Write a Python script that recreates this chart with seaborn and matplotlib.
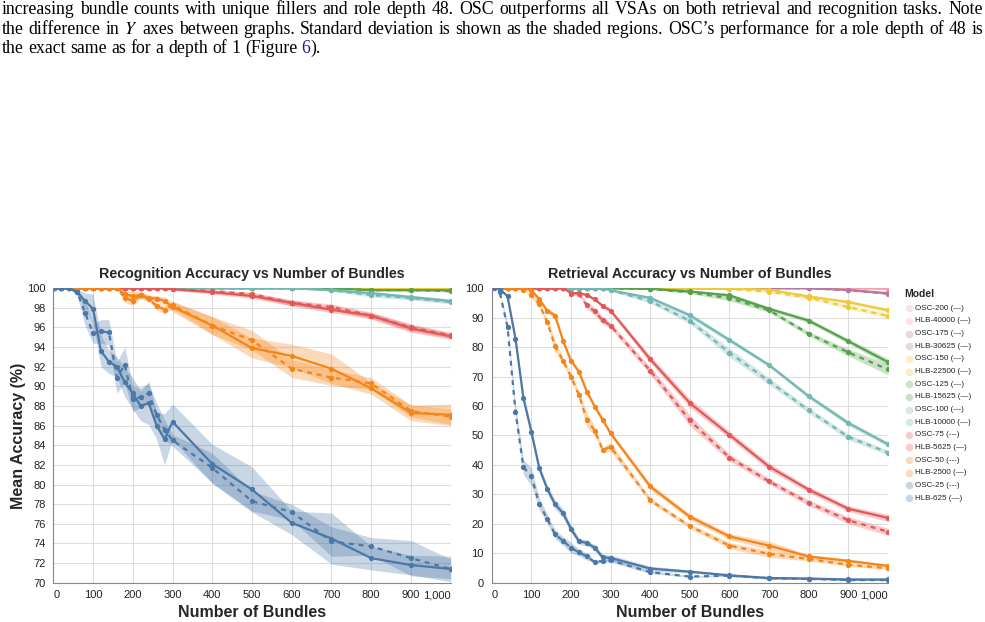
import matplotlib
matplotlib.use("Agg")
import matplotlib.pyplot as plt
import seaborn as sns
import pandas as pd

# bundle counts on the x axis
bundles = [1, 20, 40, 60, 80, 100, 120, 140, 160, 180, 200, 220, 240, 260, 280, 300,
           400, 500, 600, 700, 800, 900, 1000]

# Recognition accuracy (mean, std)
rec_osc200 = [100] * 23
rec_osc200_sd = [0] * 23
rec_hlb40000 = [100] * 23
rec_hlb40000_sd = [0] * 23
rec_osc175 = [100] * 23
rec_osc175_sd = [0] * 23
rec_hlb30625 = [100] * 23
rec_hlb30625_sd = [0] * 23
rec_osc150 = [100] * 23
rec_osc150_sd = [0] * 23
rec_hlb22500 = [100] * 23
rec_hlb22500_sd = [0] * 23
rec_osc125 = [100] * 20 + [99.8, 99.8, 99.7]
rec_osc125_sd = [0] * 20 + [0.05, 0.05, 0.1]
rec_hlb15625 = [100] * 20 + [99.8, 99.8, 99.8]
rec_hlb15625_sd = [0] * 20 + [0.05, 0.05, 0.05]
rec_osc100 = [100] * 19 + [99.8, 99.3, 99.0, 98.6]
rec_osc100_sd = [0] * 19 + [0.1, 0.2, 0.2, 0.2]
rec_hlb10000 = [100] * 19 + [99.8, 99.5, 99.1, 98.7]
rec_hlb10000_sd = [0] * 19 + [0.1, 0.15, 0.2, 0.2]
rec_osc75 = [100] * 15 + [99.9, 99.7, 99.4, 98.5, 98.1, 97.2, 96.0, 95.2]
rec_osc75_sd = [0] * 15 + [0.1, 0.15, 0.2, 0.3, 0.3, 0.35, 0.35, 0.3]
rec_hlb5625 = [100] * 15 + [99.9, 99.6, 99.2, 98.5, 97.8, 97.2, 95.9, 95.1]
rec_hlb5625_sd = [0] * 15 + [0.1, 0.2, 0.25, 0.3, 0.3, 0.3, 0.4, 0.3]
rec_osc50 = [100] * 9 + [99.0, 98.7, 99.3, 98.9, 98.2, 97.8, 98.3,
                         96.2, 94.7, 91.8, 90.9, 90.3, 87.5, 86.9]
rec_osc50_sd = [0] * 9 + [0.4, 0.5, 0.3, 0.3, 0.4, 0.4, 0.4,
                          0.9, 1.0, 0.9, 0.8, 0.6, 0.6, 0.8]
rec_hlb2500 = [100] * 9 + [99.4, 99.2, 99.3, 99.0, 98.95, 98.7, 98.1,
                           96.2, 93.9, 93.1, 91.8, 89.8, 87.3, 87.1]
rec_hlb2500_sd = [0] * 9 + [0.3, 0.5, 0.4, 0.3, 0.3, 0.4, 0.5,
                            0.9, 1.0, 1.2, 1.5, 0.6, 0.8, 1.1]
rec_osc25 = [100, 100, 100, 99.6, 97.5, 95.4, 95.6, 95.5, 90.9, 92.2, 88.7, 88.9,
             89.3, 87.1, 85.6, 84.5, 81.7, 78.3, 77.2, 74.2, 73.7, 72.5, 71.4]
rec_osc25_sd = [0, 0, 0, 0.3, 1.3, 1.0, 1.2, 1.3, 1.6, 1.8, 1.3, 1.0,
                1.0, 1.2, 1.0, 0.6, 1.5, 1.0, 0.8, 1.5, 0.9, 1.8, 1.0]
rec_hlb625 = [100, 100, 100, 99.6, 98.7, 97.9, 93.6, 92.5, 92.0, 90.4, 89.3, 88.0,
              88.3, 86.0, 84.6, 86.4, 82.1, 79.5, 76.1, 74.5, 72.5, 71.8, 71.4]
rec_hlb625_sd = [0, 0, 0, 0.3, 0.8, 1.5, 1.6, 1.2, 1.0, 1.5, 1.6, 1.5,
                 2.2, 1.4, 2.6, 1.8, 2.0, 2.3, 1.2, 2.6, 1.2, 1.0, 1.3]

# Retrieval accuracy (mean, std)
ret_osc200 = [100] * 22 + [99.8]
ret_osc200_sd = [0] * 22 + [0.1]
ret_hlb40000 = [100] * 22 + [99.8]
ret_hlb40000_sd = [0] * 22 + [0.1]
ret_osc175 = [100] * 21 + [99.3, 98.1]
ret_osc175_sd = [0] * 21 + [0.2, 0.3]
ret_hlb30625 = [100] * 21 + [99.4, 98.3]
ret_hlb30625_sd = [0] * 21 + [0.2, 0.3]
ret_osc150 = [100] * 18 + [99.7, 98.8, 96.8, 93.6, 90.6]
ret_osc150_sd = [0] * 18 + [0.1, 0.3, 0.5, 0.7, 0.8]
ret_hlb22500 = [100] * 18 + [99.9, 99.5, 97.2, 95.3, 92.5]
ret_hlb22500_sd = [0] * 18 + [0.1, 0.2, 0.4, 0.6, 0.7]
ret_osc125 = [100] * 16 + [99.7, 98.6, 96.6, 92.5, 84.5, 78.2, 72.4]
ret_osc125_sd = [0] * 16 + [0.1, 0.4, 0.9, 0.7, 0.8, 1.2, 1.8]
ret_hlb15625 = [100] * 16 + [99.8, 98.9, 97.6, 93.0, 89.0, 82.0, 74.9]
ret_hlb15625_sd = [0] * 16 + [0.1, 0.3, 0.5, 0.7, 0.7, 0.8, 1.2]
ret_osc100 = [100] * 15 + [99.3, 95.6, 88.9, 78.1, 68.4, 58.5, 49.5, 44.2]
ret_osc100_sd = [0] * 15 + [0.2, 0.7, 1.0, 1.5, 1.2, 1.0, 1.0, 0.8]
ret_hlb10000 = [100] * 15 + [99.3, 96.7, 90.8, 82.4, 73.9, 63.3, 54.2, 47.0]
ret_hlb10000_sd = [0] * 15 + [0.2, 0.6, 0.8, 0.8, 0.7, 0.8, 0.9, 0.8]
ret_osc75 = [100] * 10 + [98.2, 98.0, 94.2, 92.1, 89.1, 87.3,
                          72.0, 55.1, 42.5, 34.4, 27.1, 21.2, 17.3]
ret_osc75_sd = [0] * 10 + [0.5, 0.6, 1.2, 1.3, 1.2, 1.0,
                           1.3, 1.8, 1.2, 1.0, 1.0, 1.2, 1.2]
ret_hlb5625 = [100] * 10 + [98.4, 98.3, 97.7, 96.2, 94.0, 92.4,
                            75.9, 61.0, 50.2, 39.4, 31.6, 25.1, 22.0]
ret_hlb5625_sd = [0] * 10 + [0.4, 0.4, 0.5, 0.5, 0.6, 0.7,
                             1.2, 1.5, 1.2, 1.2, 1.0, 1.0, 1.2]
ret_osc50 = [100, 100, 100, 100, 99.5, 97.6, 94.6, 88.5, 80.3, 75.4, 70.0, 63.8,
             55.3, 51.6, 45.1, 46.1, 28.0, 19.2, 12.6, 9.8, 8.0, 6.1, 4.9]
ret_osc50_sd = [0, 0, 0, 0, 0.2, 0.8, 1.0, 1.2, 1.8, 1.2, 1.2, 1.2,
                2.5, 1.5, 1.0, 1.5, 0.8, 0.8, 1.0, 1.2, 0.6, 0.5, 0.5]
ret_hlb2500 = [100, 100, 100, 100, 100, 99.3, 96.3, 92.4, 90.7, 82.2, 75.4, 71.7,
               64.9, 59.8, 55.3, 50.7, 32.7, 22.4, 15.7, 12.6, 8.9, 7.4, 5.7]
ret_hlb2500_sd = [0, 0, 0, 0, 0, 0.4, 0.6, 0.8, 1.0, 0.8, 0.8, 0.8,
                  0.8, 0.8, 0.8, 0.8, 1.0, 1.0, 1.0, 1.5, 0.6, 0.6, 0.6]
ret_osc25 = [100, 98.7, 86.8, 58.1, 39.2, 36.1, 26.8, 21.7, 16.4, 14.2, 11.9, 10.3,
             8.9, 7.0, 7.4, 7.6, 3.6, 2.1, 2.4, 1.5, 1.3, 0.9, 0.9]
ret_osc25_sd = [0, 0.4, 1.5, 2.5, 2.5, 3.0, 2.0, 1.5, 1.5, 1.5, 1.8, 1.2,
                1.2, 0.5, 0.5, 0.6, 0.5, 0.3, 0.3, 0.2, 0.2, 0.2, 0.2]
ret_hlb625 = [100, 99.9, 97.2, 82.9, 62.7, 51.3, 38.9, 31.9, 26.6, 23.6, 18.3, 14.1,
              13.5, 11.9, 8.6, 8.4, 4.8, 3.75, 2.5, 1.6, 1.4, 1.1, 1.1]
ret_hlb625_sd = [0, 0.1, 0.5, 1.2, 1.5, 1.5, 1.2, 1.3, 1.5, 1.5, 1.3, 1.0,
                 1.0, 1.0, 1.0, 1.0, 0.8, 0.5, 0.3, 0.3, 0.3, 0.2, 0.2]

models = ["OSC-200", "HLB-40000", "OSC-175", "HLB-30625", "OSC-150", "HLB-22500",
          "OSC-125", "HLB-15625", "OSC-100", "HLB-10000", "OSC-75", "HLB-5625",
          "OSC-50", "HLB-2500", "OSC-25", "HLB-625"]
pair_colors = ["#ff9da6", "#b279a2", "#eeca3b", "#54a24b",
               "#72b7b2", "#e45756", "#f58518", "#4c78a8"]

rec_means = [rec_osc200, rec_hlb40000, rec_osc175, rec_hlb30625, rec_osc150, rec_hlb22500,
             rec_osc125, rec_hlb15625, rec_osc100, rec_hlb10000, rec_osc75, rec_hlb5625,
             rec_osc50, rec_hlb2500, rec_osc25, rec_hlb625]
rec_sds = [rec_osc200_sd, rec_hlb40000_sd, rec_osc175_sd, rec_hlb30625_sd, rec_osc150_sd,
           rec_hlb22500_sd, rec_osc125_sd, rec_hlb15625_sd, rec_osc100_sd, rec_hlb10000_sd,
           rec_osc75_sd, rec_hlb5625_sd, rec_osc50_sd, rec_hlb2500_sd, rec_osc25_sd,
           rec_hlb625_sd]
ret_means = [ret_osc200, ret_hlb40000, ret_osc175, ret_hlb30625, ret_osc150, ret_hlb22500,
             ret_osc125, ret_hlb15625, ret_osc100, ret_hlb10000, ret_osc75, ret_hlb5625,
             ret_osc50, ret_hlb2500, ret_osc25, ret_hlb625]
ret_sds = [ret_osc200_sd, ret_hlb40000_sd, ret_osc175_sd, ret_hlb30625_sd, ret_osc150_sd,
           ret_hlb22500_sd, ret_osc125_sd, ret_hlb15625_sd, ret_osc100_sd, ret_hlb10000_sd,
           ret_osc75_sd, ret_hlb5625_sd, ret_osc50_sd, ret_hlb2500_sd, ret_osc25_sd,
           ret_hlb625_sd]


def to_frame(means, sds):
    rows = []
    for m, mean, sd in zip(models, means, sds):
        for b, v, s in zip(bundles, mean, sd):
            rows.append({"Bundles": b, "Model": m, "Accuracy": v, "SD": s})
    return pd.DataFrame(rows)


rec_df = to_frame(rec_means, rec_sds)
ret_df = to_frame(ret_means, ret_sds)

sns.set_style("white")
plt.rcParams["font.family"] = ["Liberation Sans", "DejaVu Sans"]
plt.rcParams["mathtext.fontset"] = "stix"

W, H = 985, 622
fig = plt.figure(figsize=(W / 100, H / 100), dpi=100)
ax_rec = fig.add_axes([53.3 / W, 1 - 582.7 / H, 397.4 / W, 294.5 / H])
ax_ret = fig.add_axes([491.7 / W, 1 - 582.7 / H, 396.3 / W, 294.5 / H])


def draw_panel(ax, df, title, ylim, yticks):
    # shaded std bands first, then lines on top
    for i, m in enumerate(models):
        sub = df[df["Model"] == m]
        c = pair_colors[i // 2]
        ax.fill_between(sub["Bundles"], sub["Accuracy"] - sub["SD"],
                        sub["Accuracy"] + sub["SD"], color=c, alpha=0.3, lw=0)
    for i, m in enumerate(models):
        sub = df[df["Model"] == m]
        c = pair_colors[i // 2]
        ls = (0, (2.2, 2.2)) if m.startswith("OSC") else "-"
        sns.lineplot(data=sub, x="Bundles", y="Accuracy", ax=ax, color=c,
                     linestyle=ls, lw=1.6, marker="o", markersize=3.8,
                     markeredgewidth=0, errorbar=None, legend=False)
    ax.set_xlim(0, 1000)
    ax.set_ylim(*ylim)
    ax.set_xticks(range(0, 1001, 100))
    ax.set_xticklabels([f"{v:,}" for v in range(0, 1001, 100)])
    ax.set_yticks(yticks)
    ax.set_yticklabels([str(v) for v in yticks])
    labels = ax.get_xticklabels()
    labels[0].set_ha("left")
    labels[-1].set_ha("right")
    ax.grid(True, color="#dddddd", lw=0.8)
    ax.set_axisbelow(True)
    for s in ["top", "right"]:
        ax.spines[s].set_visible(False)
    for s in ["left", "bottom"]:
        ax.spines[s].set_color("#888888")
        ax.spines[s].set_linewidth(0.8)
    ax.tick_params(axis="both", length=3.6, width=0.8, color="#888888",
                   labelsize=8, labelcolor="#222222", pad=2)
    ax.set_title(title, fontsize=10.3, fontweight="bold", pad=7)
    ax.set_xlabel("Number of Bundles", fontsize=11.5, fontweight="bold", labelpad=3)
    ax.set_ylabel("")


draw_panel(ax_rec, rec_df, "Recognition Accuracy vs Number of Bundles",
           (70, 100), list(range(70, 101, 2)))
draw_panel(ax_ret, ret_df, "Retrieval Accuracy vs Number of Bundles",
           (0, 100), list(range(0, 101, 10)))
ax_rec.set_ylabel("Mean Accuracy (%)", fontsize=11.5, fontweight="bold", labelpad=1)

# legend, drawn on an overlay in pixel units
leg = fig.add_axes([0, 0, 1, 1])
leg.set_xlim(0, W)
leg.set_ylim(H, 0)
leg.axis("off")
leg.text(904, 294, "Model", fontsize=7.5, fontweight="bold", va="center", ha="left")
for i, m in enumerate(models):
    y = 308.3 + i * 12.65
    leg.scatter([908.5], [y], s=30, color=pair_colors[i // 2], alpha=0.3, lw=0)
    tag = "(---)" if m.startswith("OSC") else "(\u2014)"
    leg.text(915, y, f"{m} {tag}", fontsize=5.8, va="center", ha="left", color="#222222")

# caption text above the charts
cap_size = 12.8
line1 = ("increasing bundle counts with unique fillers and role depth 48. OSC outperforms "
         "all VSAs on both retrieval and recognition tasks. Note").split()
line2 = ("the difference in $Y$ axes between graphs. Standard deviation is shown as the "
         "shaded regions. OSC\u2019s performance for a role depth of 48 is").split()
line3 = "the exact same as for a depth of 1 (Figure".split()

renderer = fig.canvas.get_renderer()


def place(tokens, base_y, justify):
    texts = []
    for word, color, glue in tokens:
        t = fig.text(0, 1 - base_y / H, word, fontsize=cap_size, color=color,
                     family=["Liberation Serif", "DejaVu Serif"], va="baseline", ha="left")
        texts.append((t, glue))
    widths = [t.get_window_extent(renderer).width for t, _ in texts]
    n_gaps = sum(1 for _, g in texts[1:] if not g)
    if justify:
        gap = (981 - sum(widths)) / n_gaps
    else:
        gap = 0.25 * cap_size * 100 / 72
    x = 2
    for (t, glue), w in zip(texts, widths):
        if not glue and t is not texts[0][0]:
            x += gap
        t.set_x(x / W)
        x += w


place([(w, "black", False) for w in line1], 14, True)
place([(w, "black", False) for w in line2], 33.5, True)
place([(w, "black", False) for w in line3] + [("6", "#1a1aa6", False), (").", "black", True)],
      53, False)

fig.savefig("out.png", dpi=100)
